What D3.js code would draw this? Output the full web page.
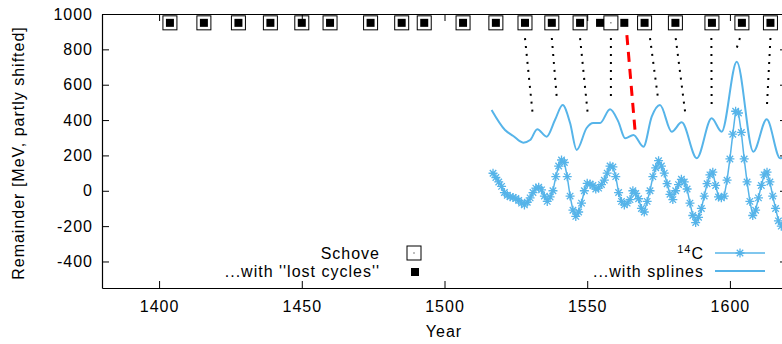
<!DOCTYPE html>
<html>
<head>
<meta charset="utf-8">
<script src="https://cdn.jsdelivr.net/npm/d3@7"></script>
<style>
  body { margin: 0; background: #fff; }
  svg text { font-family: "Liberation Sans", Arial, sans-serif; font-size: 16px; letter-spacing: 1px; fill: #000; }
</style>
</head>
<body>
<script>
// Data
const xTicks = [1400, 1450, 1500, 1550, 1600]
const yTicks = [-400, -200, 0, 200, 400, 600, 800, 1000]

const schoveYears = [1403.8, 1415.7, 1427.8, 1439, 1450, 1459.9, 1474.1, 1485, 1492.9, 1506.5, 1518, 1528.2, 1537.6, 1547.5, 1558.3, 1570.1, 1580.9, 1593.7, 1604.2, 1614.2]
const lostYears = [1403.8, 1415.7, 1427.8, 1439, 1450, 1459.9, 1474.1, 1485, 1492.9, 1506.5, 1518, 1528.2, 1537.6, 1547.5, 1554.5, 1563, 1570.1, 1580.9, 1593.7, 1604.2, 1614.2]
const cycleLevel = 950

const c14Years = d3.range(1517, 1619)
const c14Values = [
  99, 75, 50, 25, -10, -25, -34, -38, -43, -55,
  -70, -80, -65, -40, -10, 15, 20, 5, -30, -60,
  -35, 0, 80, 140, 174, 160, 80, -30, -110, -145,
  -120, -70, 0, 42, 38, 30, 10, 15, 35, 60,
  100, 140, 135, 80, -10, -60, -80, -70, -50, 0,
  -15, -45, -100, -120, -60, 0, 80, 130, 170, 140,
  100, 40, -20, -50, 0, 35, 65, 50, 10, -70,
  -140, -180, -150, -100, -30, 40, 90, 105, 30, -35,
  -40, -30, 60, 180, 320, 450, 440, 330, 180, 50,
  -60, -140, -110, -40, 30, 90, 105, 50, -30, -100,
  -170, -200
]

const splineYears = [1516.5, 1521.2, 1524.1, 1527.6, 1530, 1532.5, 1535.8, 1538.7, 1541.4, 1544, 1546.3, 1549.8, 1552.1, 1554.5, 1558, 1560.9, 1563.3, 1566.2, 1569.7, 1572.6, 1575.5, 1579.6, 1583.1, 1588.4, 1593.6, 1597.1, 1602.4, 1608.2, 1612.9, 1617.6, 1619]
const splineValues = [457, 344, 310, 272, 287, 348, 306, 400, 485, 383, 231, 355, 383, 383, 461, 391, 297, 316, 249, 419, 485, 334, 387, 184, 410, 334, 730, 221, 404, 184, 190]

const linkFromYears = [1528.2, 1537.6, 1547.5, 1558.3, 1572, 1581, 1593.5, 1603.5, 1614.2]
const linkToYears = [1531, 1539.4, 1550.3, 1558.3, 1574.8, 1584.3, 1593.6, 1602.4, 1612.9]
const linkToValues = [417, 514, 417, 525, 525, 446, 457, 808, 457]
const linkFromValue = 864

const lostLinkYears = [1563.9, 1566.8]
const lostLinkValues = [881, 333]

// Layout
const width = 782, height = 344
const margin = { top: 14, right: -5, bottom: 56, left: 102 }
const blue = "#56b4e9"

const x = d3.scaleLinear().domain([1380, 1620]).range([margin.left, width - margin.right])
const y = d3.scaleLinear().domain([-550, 1000]).range([height - margin.bottom, margin.top])

const svg = d3.select("body").append("svg")
  .attr("width", width)
  .attr("height", height)

// Axes (ticks inward, mirrored on top and right)
const plain = d => String(d)
const styleAxis = g => {
  g.selectAll("path.domain").attr("stroke", "#000").attr("stroke-width", 1.2)
  g.selectAll(".tick line").attr("stroke", "#000").attr("stroke-width", 1)
}
svg.append("g")
  .attr("transform", `translate(0,${y.range()[0]})`)
  .call(d3.axisBottom(x).tickValues(xTicks).tickFormat(plain).tickSize(-7).tickSizeOuter(0).tickPadding(12.6))
  .call(styleAxis)
svg.append("g")
  .attr("transform", `translate(0,${y.range()[1]})`)
  .call(d3.axisTop(x).tickValues(xTicks).tickFormat("").tickSize(-7).tickSizeOuter(0))
  .call(styleAxis)
svg.append("g")
  .attr("transform", `translate(${x.range()[0]},0)`)
  .call(d3.axisLeft(y).tickValues(yTicks).tickFormat(plain).tickSize(-7).tickSizeOuter(0).tickPadding(9))
  .call(styleAxis)
svg.append("g")
  .attr("transform", `translate(${x.range()[1]},0)`)
  .call(d3.axisRight(y).tickValues(yTicks).tickFormat("").tickSize(-7).tickSizeOuter(0))
  .call(styleAxis)

// Axis labels
svg.append("text")
  .attr("x", 444)
  .attr("y", 337)
  .attr("text-anchor", "middle")
  .text("Year")
svg.append("text")
  .attr("transform", "translate(24,153) rotate(-90)")
  .attr("text-anchor", "middle")
  .text("Remainder [MeV, partly shifted]")

// Links from cycle maxima to spline maxima
svg.append("g")
  .selectAll("line")
  .data(linkFromYears)
  .join("line")
  .attr("x1", d => x(d))
  .attr("y1", y(linkFromValue))
  .attr("x2", (_, i) => x(linkToYears[i]))
  .attr("y2", (_, i) => y(linkToValues[i]))
  .attr("stroke", "#000")
  .attr("stroke-width", 2)
  .attr("stroke-dasharray", "2,6")
svg.append("line")
  .attr("x1", x(lostLinkYears[0]))
  .attr("y1", y(lostLinkValues[0]))
  .attr("x2", x(lostLinkYears[1]))
  .attr("y2", y(lostLinkValues[1]))
  .attr("stroke", "#f00")
  .attr("stroke-width", 3)
  .attr("stroke-dasharray", "10,7")

// Splines
svg.append("path")
  .datum(splineYears)
  .attr("fill", "none")
  .attr("stroke", blue)
  .attr("stroke-width", 2)
  .attr("d", d3.line().x(d => x(d)).y((_, i) => y(splineValues[i])).curve(d3.curveMonotoneX))

// 14C line with asterisks
const star = r => {
  const d = r * 0.72
  return `M${-r},0H${r}M0,${-r}V${r}M${-d},${-d}L${d},${d}M${-d},${d}L${d},${-d}`
}
svg.append("path")
  .datum(c14Years)
  .attr("fill", "none")
  .attr("stroke", blue)
  .attr("stroke-width", 1.5)
  .attr("d", d3.line().x(d => x(d)).y((_, i) => y(c14Values[i])))
svg.append("g")
  .attr("stroke", blue)
  .attr("stroke-width", 1.3)
  .selectAll("path")
  .data(c14Years)
  .join("path")
  .attr("transform", (d, i) => `translate(${x(d)},${y(c14Values[i])})`)
  .attr("d", star(4.5))

// Cycle maxima squares
const openSquare = (sel, cx, cy) => {
  sel.append("rect")
    .attr("x", cx - 7).attr("y", cy - 7)
    .attr("width", 14).attr("height", 14)
    .attr("fill", "none").attr("stroke", "#000").attr("stroke-width", 1)
  sel.append("rect")
    .attr("x", cx - 0.5).attr("y", cy - 0.5)
    .attr("width", 1).attr("height", 1)
    .attr("fill", "#000")
}
const schove = svg.append("g")
schoveYears.forEach(d => openSquare(schove, x(d), y(cycleLevel)))
svg.append("g")
  .selectAll("rect")
  .data(lostYears)
  .join("rect")
  .attr("x", d => x(d) - 4)
  .attr("y", y(cycleLevel) - 4)
  .attr("width", 8)
  .attr("height", 8)
  .attr("fill", "#000")

// Legend
const legendLeft = svg.append("g")
legendLeft.append("text").attr("x", 380).attr("y", 259).attr("text-anchor", "end").text("Schove")
legendLeft.append("text").attr("x", 380).attr("y", 277).attr("text-anchor", "end").text("...with ''lost cycles''")
openSquare(legendLeft, 414, 253)
legendLeft.append("rect").attr("x", 411).attr("y", 268).attr("width", 8).attr("height", 8).attr("fill", "#000")

const legendRight = svg.append("g")
const c14Label = legendRight.append("text").attr("x", 704).attr("y", 259).attr("text-anchor", "end")
c14Label.append("tspan").attr("dy", -6).style("font-size", "11px").text("14")
c14Label.append("tspan").attr("dy", 6).text("C")
legendRight.append("text").attr("x", 704).attr("y", 277).attr("text-anchor", "end").text("...with splines")
legendRight.append("line").attr("x1", 715).attr("x2", 765).attr("y1", 253).attr("y2", 253)
  .attr("stroke", blue).attr("stroke-width", 1.5)
legendRight.append("path").attr("transform", "translate(740,253)").attr("d", star(4.5))
  .attr("stroke", blue).attr("stroke-width", 1.3)
legendRight.append("line").attr("x1", 715).attr("x2", 765).attr("y1", 271).attr("y2", 271)
  .attr("stroke", blue).attr("stroke-width", 2)
</script>
</body>
</html>
